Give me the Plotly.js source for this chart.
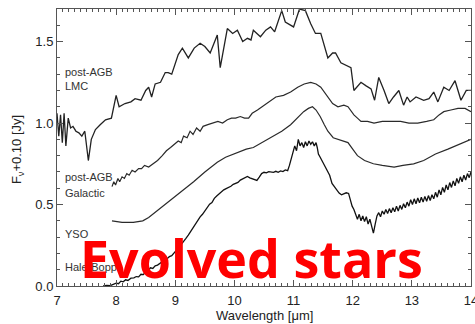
<!DOCTYPE html>
<html>
<head>
<meta charset="utf-8">
<script src="https://cdn.plot.ly/plotly-3.0.1.min.js"></script>
<style>
  html, body { margin: 0; padding: 0; background: #fff; overflow: hidden; }
  #chart { width: 475px; height: 324px; }
</style>
</head>
<body>
<div id="chart"></div>
<script>
// Mid-infrared spectra (flux + 0.10 Jy offsets) versus wavelength in microns.

const lmcWave = [7.00, 7.03, 7.06, 7.09, 7.12, 7.15, 7.19, 7.23, 7.27, 7.32, 7.37, 7.42, 7.47, 7.53, 7.58, 7.65,
  7.73, 7.82, 7.92, 8.00, 8.05, 8.15, 8.25, 8.32, 8.42, 8.50, 8.55, 8.60, 8.66, 8.75, 8.83, 8.88, 8.94,
  9.05, 9.12, 9.22, 9.32, 9.42, 9.50, 9.59, 9.71, 9.76, 9.88, 9.97, 10.05, 10.14, 10.22, 10.28, 10.32,
  10.44, 10.53, 10.61, 10.68, 10.80, 10.86, 11.00, 11.10, 11.20, 11.29, 11.37, 11.46, 11.58, 11.66,
  11.71, 11.80, 11.97, 12.02, 12.14, 12.22, 12.31, 12.37, 12.44, 12.53, 12.61, 12.69, 12.78, 12.86,
  12.92, 12.97, 13.07, 13.20, 13.29, 13.37, 13.44, 13.54, 13.63, 13.73, 13.83, 13.92, 14.00];
const lmcFlux = [1.06, 0.92, 1.05, 0.88, 1.06, 0.86, 1.03, 0.97, 0.98, 0.95, 0.94, 0.92, 0.95, 0.77, 0.90, 0.96,
  0.99, 1.02, 1.03, 1.17, 1.10, 1.12, 1.13, 1.15, 1.14, 1.20, 1.22, 1.16, 1.24, 1.25, 1.31, 1.31, 1.30,
  1.42, 1.46, 1.40, 1.46, 1.49, 1.47, 1.43, 1.54, 1.34, 1.58, 1.55, 1.57, 1.50, 1.52, 1.51, 1.57,
  1.53, 1.57, 1.59, 1.56, 1.69, 1.62, 1.59, 1.70, 1.69, 1.61, 1.55, 1.55, 1.40, 1.43,
  1.43, 1.37, 1.34, 1.20, 1.25, 1.23, 1.21, 1.14, 1.28, 1.20, 1.12, 1.16, 1.20, 1.11,
  1.16, 1.13, 1.16, 1.14, 1.15, 1.19, 1.13, 1.22, 1.20, 1.26, 1.14, 1.20, 1.20];

const galWave = [7.93, 7.96, 7.99, 8.03, 8.06, 8.10, 8.14, 8.18, 8.22, 8.27, 8.32, 8.38, 8.43, 8.48, 8.55, 8.63,
  8.70, 8.78, 8.85, 8.92, 8.98, 9.05, 9.10, 9.14, 9.20, 9.25, 9.30, 9.36, 9.42, 9.47, 9.55, 9.64, 9.72,
  9.80, 9.88, 9.95, 10.02, 10.10, 10.17, 10.24, 10.30, 10.39, 10.47, 10.54, 10.61, 10.70, 10.83, 10.95,
  11.07, 11.18, 11.29, 11.38, 11.46, 11.52, 11.58, 11.66, 11.75, 11.85, 11.92, 12.02, 12.08, 12.14,
  12.25, 12.36, 12.50, 12.65, 12.81, 12.95, 13.10, 13.25, 13.37, 13.46, 13.54, 13.66, 13.78, 13.90, 14.00];
const galFlux = [0.61, 0.64, 0.62, 0.66, 0.64, 0.67, 0.66, 0.69, 0.68, 0.71, 0.70, 0.72, 0.72, 0.74, 0.73, 0.75,
  0.77, 0.80, 0.83, 0.85, 0.87, 0.89, 0.88, 0.92, 0.91, 0.95, 0.93, 0.97, 0.95, 0.98, 0.99, 1.00, 1.01,
  1.00, 1.02, 1.03, 1.03, 1.04, 1.03, 1.03, 1.06, 1.08, 1.10, 1.12, 1.14, 1.16, 1.17, 1.19,
  1.22, 1.24, 1.25, 1.24, 1.22, 1.19, 1.16, 1.12, 1.10, 1.11, 1.10, 1.05, 1.03, 1.01,
  1.01, 1.00, 1.01, 1.01, 1.01, 1.00, 1.00, 1.01, 1.02, 1.05, 1.07, 1.08, 1.09, 1.09, 1.07];

const ysoWave = [7.93, 8.10, 8.29, 8.45, 8.55, 8.69, 8.80, 8.92, 9.10, 9.31, 9.50, 9.71, 9.85, 10.05, 10.20,
  10.32, 10.47, 10.61, 10.80, 10.95, 11.08, 11.17, 11.25, 11.32, 11.38, 11.45, 11.52, 11.58, 11.67,
  11.75, 11.85, 11.92, 12.00, 12.08, 12.20, 12.35, 12.50, 12.70, 12.85, 13.03, 13.20, 13.40, 13.61,
  13.80, 14.00];
const ysoFlux = [0.40, 0.39, 0.39, 0.40, 0.42, 0.46, 0.49, 0.53, 0.58, 0.64, 0.70, 0.76, 0.79, 0.82, 0.84,
  0.85, 0.88, 0.91, 0.95, 0.99, 1.04, 1.07, 1.09, 1.10, 1.08, 1.04, 0.99, 0.95, 0.91,
  0.90, 0.89, 0.88, 0.84, 0.80, 0.77, 0.75, 0.74, 0.73, 0.74, 0.75, 0.77, 0.81, 0.84,
  0.87, 0.90];

const haleWave = [7.78, 7.84, 7.90, 7.95, 8.00, 8.04, 8.08, 8.12, 8.16, 8.20, 8.25, 8.30, 8.34, 8.38, 8.42,
  8.46, 8.50, 8.54, 8.58, 8.62, 8.66, 8.70, 8.74, 8.78, 8.82, 8.86, 8.90, 8.94, 8.98, 9.02, 9.06, 9.10,
  9.14, 9.18, 9.22, 9.26, 9.30, 9.34, 9.38, 9.42, 9.46, 9.50, 9.54, 9.58, 9.62, 9.66, 9.70, 9.74, 9.78,
  9.82, 9.86, 9.90, 9.94, 9.98, 10.02, 10.06, 10.10, 10.14, 10.18, 10.22, 10.26, 10.30, 10.34, 10.38,
  10.42, 10.46, 10.50, 10.54, 10.58, 10.62, 10.66, 10.70, 10.74, 10.78, 10.82, 10.86, 10.90, 10.93,
  10.96, 10.99, 11.02, 11.05, 11.08, 11.11, 11.14, 11.17, 11.20, 11.23, 11.26, 11.29, 11.32, 11.35,
  11.38, 11.40, 11.42, 11.45, 11.49, 11.53, 11.57, 11.61, 11.65, 11.69, 11.73, 11.77, 11.81, 11.85,
  11.89, 11.93, 11.96, 11.99, 12.02, 12.05, 12.08, 12.11, 12.14, 12.17, 12.20, 12.23, 12.26, 12.29,
  12.32, 12.35, 12.38, 12.41, 12.44, 12.47, 12.50, 12.53, 12.56, 12.59, 12.62, 12.65, 12.68, 12.71,
  12.74, 12.77, 12.80, 12.83, 12.86, 12.89, 12.92, 12.95, 12.98, 13.01, 13.04, 13.07, 13.10, 13.13,
  13.16, 13.19, 13.22, 13.25, 13.28, 13.31, 13.34, 13.37, 13.40, 13.43, 13.46, 13.49, 13.52, 13.55,
  13.58, 13.61, 13.64, 13.67, 13.70, 13.73, 13.76, 13.79, 13.82, 13.85, 13.88, 13.91, 13.94, 13.97, 14.00];
const haleFlux = [0.000, 0.004, 0.002, 0.012, 0.018, 0.014, 0.030, 0.026, 0.038, 0.034, 0.048, 0.050, 0.058, 0.056, 0.072,
  0.070, 0.088, 0.094, 0.112, 0.108, 0.124, 0.128, 0.140, 0.146, 0.160, 0.168, 0.180, 0.186, 0.206, 0.220, 0.236, 0.254,
  0.268, 0.292, 0.312, 0.336, 0.352, 0.378, 0.402, 0.424, 0.440, 0.462, 0.478, 0.502, 0.512, 0.538, 0.552, 0.566, 0.582,
  0.590, 0.598, 0.604, 0.612, 0.624, 0.630, 0.636, 0.650, 0.656, 0.664, 0.672, 0.664, 0.660, 0.652, 0.648,
  0.668, 0.690, 0.698, 0.694, 0.702, 0.700, 0.698, 0.704, 0.698, 0.706, 0.702, 0.712, 0.708, 0.740,
  0.780, 0.820, 0.860, 0.830, 0.900, 0.860, 0.880, 0.850, 0.885, 0.860, 0.890, 0.870, 0.885, 0.860,
  0.880, 0.850, 0.810, 0.790, 0.760, 0.735, 0.705, 0.680, 0.630, 0.610, 0.585, 0.570, 0.560, 0.566,
  0.572, 0.568, 0.530, 0.490, 0.470, 0.440, 0.410, 0.440, 0.400, 0.430, 0.395, 0.425, 0.380, 0.410,
  0.370, 0.325, 0.380, 0.430, 0.450, 0.425, 0.460, 0.440, 0.470, 0.445, 0.475, 0.450, 0.480, 0.455,
  0.490, 0.460, 0.495, 0.470, 0.505, 0.480, 0.515, 0.490, 0.530, 0.500, 0.535, 0.505, 0.540, 0.510,
  0.545, 0.515, 0.550, 0.520, 0.555, 0.525, 0.560, 0.535, 0.575, 0.545, 0.590, 0.560, 0.605, 0.575,
  0.620, 0.590, 0.635, 0.605, 0.645, 0.615, 0.660, 0.630, 0.670, 0.640, 0.680, 0.650, 0.690, 0.665, 0.700];

// Curve labels: text and the flux level each sits at.
const labelTexts = ['post-AGB', 'LMC', 'post-AGB', 'Galactic', 'YSO', 'Hale-Bopp'];
const labelLevels = [1.313, 1.227, 0.669, 0.571, 0.319, 0.117];

const xTickVals = [7, 8, 9, 10, 11, 12, 13, 14];
const yTickVals = [0.0, 0.5, 1.0, 1.5];

const banner = 'Evolved stars';
const xTitle = 'Wavelength [μm]';
const yTitle = 'F<sub>ν</sub>+0.10 [Jy]';

const lineStyle = (w, c) => ({ color: c, width: w });

const traces = [
  { x: lmcWave, y: lmcFlux, mode: 'lines', line: lineStyle(1.3, '#222'), hoverinfo: 'skip' },
  { x: galWave, y: galFlux, mode: 'lines', line: lineStyle(1.2, '#2a2a2a'), hoverinfo: 'skip' },
  { x: ysoWave, y: ysoFlux, mode: 'lines', line: lineStyle(1.2, '#2a2a2a'), hoverinfo: 'skip' },
  { x: haleWave, y: haleFlux, mode: 'lines', line: lineStyle(1.3, '#111'), hoverinfo: 'skip' }
];

const axisFont = { family: 'Liberation Sans, Arial, sans-serif', size: 13, color: '#222' };
const frame = '#555';

const annotations = labelTexts.map((t, i) => ({
  text: t, xref: 'paper', x: 0.0145, xanchor: 'left',
  yref: 'y', y: labelLevels[i], yanchor: 'middle',
  showarrow: false, font: { family: 'Liberation Sans, Arial, sans-serif', size: 11, color: '#333' }
}));

annotations.push({
  text: xTitle, xref: 'paper', x: 0.5024, xanchor: 'center',
  yref: 'paper', y: -0.105, yanchor: 'middle', showarrow: false, font: axisFont
});
annotations.push({
  text: yTitle, xref: 'paper', x: -0.0966, xanchor: 'center',
  yref: 'y', y: 0.834, yanchor: 'middle', textangle: -90, showarrow: false, font: axisFont
});
annotations.push({
  text: banner, xref: 'paper', x: 0.4686, xanchor: 'center',
  yref: 'paper', y: 0.103, yanchor: 'middle', showarrow: false,
  font: { family: 'Open Sans, sans-serif', size: 52, color: '#ff0000', weight: 'bold' }
});

const layout = {
  width: 475, height: 324,
  margin: { l: 57, r: 4, t: 9, b: 38, pad: 0 },
  paper_bgcolor: '#fff', plot_bgcolor: '#fff',
  showlegend: false,
  xaxis: {
    range: [7, 14], tickvals: xTickVals, ticks: 'inside', ticklen: 6, tickwidth: 1, tickcolor: frame,
    showline: true, linecolor: frame, linewidth: 1, mirror: 'ticks',
    showgrid: false, zeroline: false, tickfont: axisFont, ticklabelstandoff: 2,
    ticklabeloverflow: 'allow',
    minor: { dtick: 0.1, ticks: 'inside', ticklen: 3, tickcolor: frame, showgrid: false }
  },
  yaxis: {
    range: [0, 1.7], tickvals: yTickVals, tickformat: '.1f', ticks: 'inside', ticklen: 6, tickwidth: 1, tickcolor: frame,
    showline: true, linecolor: frame, linewidth: 1, mirror: 'ticks',
    showgrid: false, zeroline: false, tickfont: axisFont,
    minor: { dtick: 0.1, ticks: 'inside', ticklen: 3, tickcolor: frame, showgrid: false }
  },
  annotations: annotations
};

Plotly.newPlot('chart', traces, layout, { staticPlot: true, displayModeBar: false });
</script>
</body>
</html>
